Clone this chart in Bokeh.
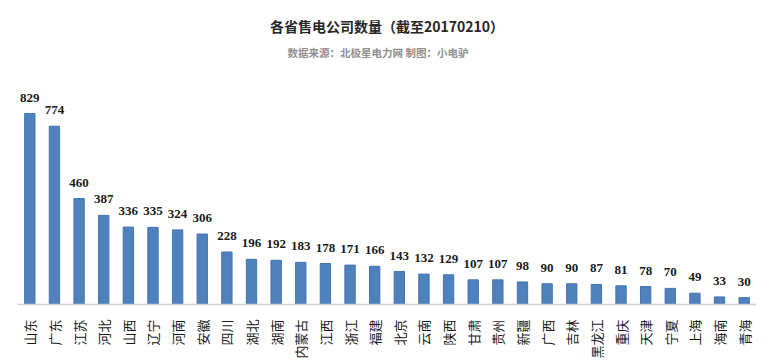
import math
from bokeh.plotting import figure
from bokeh.models import ColumnDataSource, Title, Range1d
from bokeh.core.properties import value
from bokeh.embed import file_html
from bokeh.resources import INLINE

provinces = ["山东", "广东", "江苏", "河北", "山西", "辽宁", "河南", "安徽", "四川", "湖北",
             "湖南", "内蒙古", "江西", "浙江", "福建", "北京", "云南", "陕西", "甘肃", "贵州",
             "新疆", "广西", "吉林", "黑龙江", "重庆", "天津", "宁夏", "上海", "海南", "青海"]
counts = [829, 774, 460, 387, 336, 335, 324, 306, 228, 196,
          192, 183, 178, 171, 166, 143, 132, 129, 107, 107,
          98, 90, 90, 87, 81, 78, 70, 49, 33, 30]

title_text = "各省售电公司数量（截至20170210）"
subtitle_text = "数据来源：北极星电力网 制图：小电驴"

src = ColumnDataSource(dict(x=provinces, top=counts, label=[str(c) for c in counts]))

p = figure(x_range=provinces, width=756, height=361, output_backend="svg",
           toolbar_location=None, min_border_left=17, min_border_right=0,
           min_border_top=70, min_border_bottom=0)
p.y_range = Range1d(0, 1016)

p.add_layout(Title(text=subtitle_text, align="left", text_font="Noto Sans CJK SC",
                   text_font_size="10.5px", text_font_style="bold", text_color="#909090",
                   standoff=21, offset=270), "above")
p.add_layout(Title(text=title_text, align="center", text_font="Noto Sans CJK SC",
                   text_font_size="14px", text_font_style="bold", text_color="#262626",
                   standoff=-7), "above")
p.title.visible = False

p.vbar(x="x", top="top", width=0.42, source=src, fill_color="#4F81BD",
       line_color="#4474B0", line_width=1)
p.text(x="x", y="top", text="label", source=src, text_align="center",
       text_baseline="bottom", y_offset=-12, text_font=value("Liberation Serif"),
       text_font_size="13px", text_font_style="bold", text_color="#1a1a1a")

p.yaxis.visible = False
p.xgrid.visible = False
p.ygrid.visible = False
p.outline_line_color = None
p.xaxis.axis_line_color = "#d0d0d0"
p.xaxis.axis_line_width = 1.5
p.xaxis.major_tick_line_color = None
p.xaxis.minor_tick_line_color = None
p.xaxis.major_label_orientation = math.pi / 2
p.xaxis.major_label_standoff = 9
p.xaxis.major_label_text_font = "Noto Sans CJK SC"
p.xaxis.major_label_text_font_size = "13px"
p.xaxis.major_label_text_color = "#1a1a1a"
p.x_range.range_padding = 0

open("out.html", "w").write(file_html(p, INLINE))
